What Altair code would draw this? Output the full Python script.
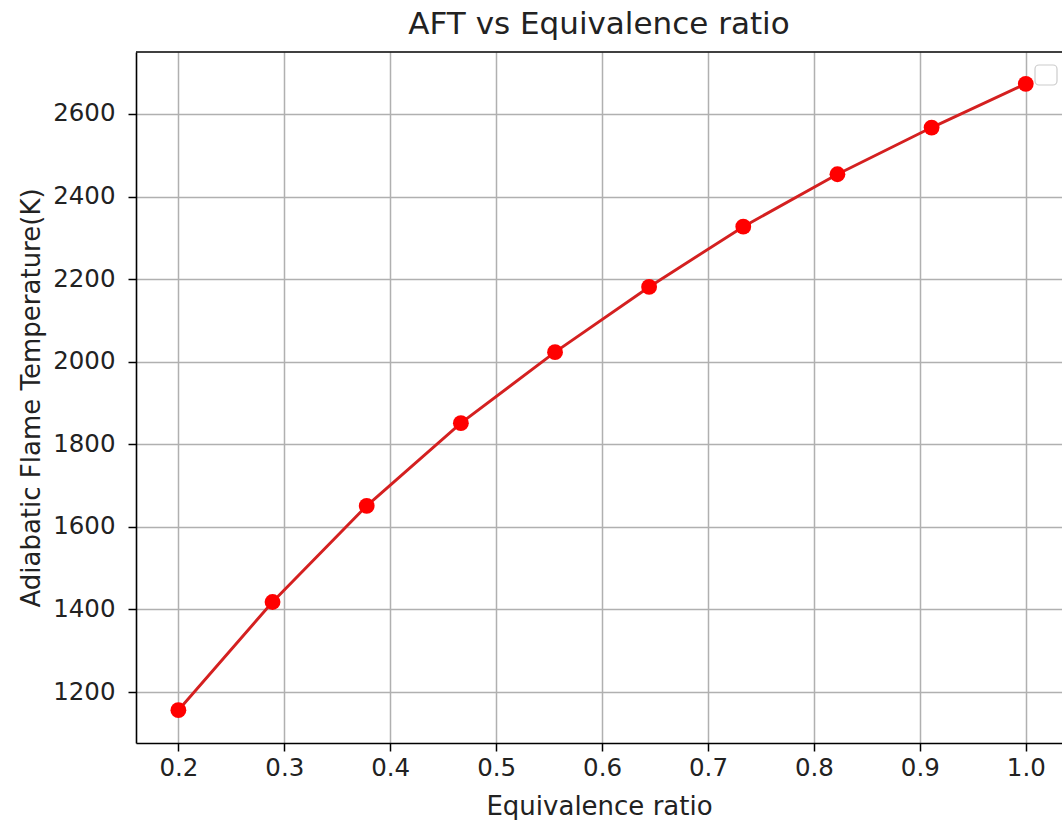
import altair as alt
import pandas as pd

# Data
phi = [0.2, 0.2889, 0.3778, 0.4667, 0.5556, 0.6444, 0.7333, 0.8222, 0.9111, 1.0]
temperature = [1156, 1418, 1651, 1851, 2023, 2181, 2327, 2454, 2567, 2673]
x_ticks = [0.2, 0.3, 0.4, 0.5, 0.6, 0.7, 0.8, 0.9, 1.0]
y_ticks = [1200, 1400, 1600, 1800, 2000, 2200, 2400, 2600]

df = pd.DataFrame({"phi": phi, "T": temperature})

FONT = "DejaVu Sans"
TEXT = "#222222"
W, H = 926, 691

x_enc = alt.X(
    "phi:Q",
    scale=alt.Scale(domain=[0.16, 1.0342], nice=False, zero=False),
    axis=alt.Axis(values=x_ticks, format=".1f", title="Equivalence ratio",
                  labelPadding=5, titlePadding=14),
)
y_enc = alt.Y(
    "T:Q",
    scale=alt.Scale(domain=[1076.5, 2750], nice=False, zero=False),
    axis=alt.Axis(values=y_ticks, format="d", title="Adiabatic Flame Temperature(K)",
                  labelPadding=13, titlePadding=8),
)

base = alt.Chart(df).encode(x=x_enc, y=y_enc)
line = base.mark_line(color="#d42020", strokeWidth=2.9)
pts = base.mark_circle(size=250, color="#ff0000", opacity=1)

one = pd.DataFrame({"k": [0]})
top_border = alt.Chart(one).mark_rule(color="black", strokeWidth=1.5).encode(
    x=alt.value(0), x2=alt.value(W), y=alt.value(0)
)
legend_box = alt.Chart(one).mark_rect(
    fill="white", stroke="#cccccc", strokeWidth=1.2, cornerRadius=4
).encode(x=alt.value(899), x2=alt.value(921), y=alt.value(13), y2=alt.value(33))

chart = (
    alt.layer(line, pts, top_border, legend_box)
    .properties(
        width=W,
        height=H,
        title=alt.Title("AFT vs Equivalence ratio", fontSize=31, font=FONT,
                        fontWeight="normal", color=TEXT, offset=15, dy=29,
                        baseline="alphabetic", anchor="middle"),
        padding={"left": 136, "top": 52, "right": 0, "bottom": 77},
        autosize=alt.AutoSizeParams(type="none"),
    )
    .configure_view(stroke=None)
    .configure_axis(
        domainColor="black", domainWidth=1.6,
        tickColor="black", tickWidth=1.5, tickSize=8,
        labelFont=FONT, labelFontSize=24.5, labelColor=TEXT,
        titleFont=FONT, titleFontSize=26, titleFontWeight="normal", titleColor=TEXT,
        gridColor="#b0b0b0", gridWidth=1.5, grid=True,
    )
)

chart.save("out.html", embed_options={"renderer": "svg", "actions": False})
